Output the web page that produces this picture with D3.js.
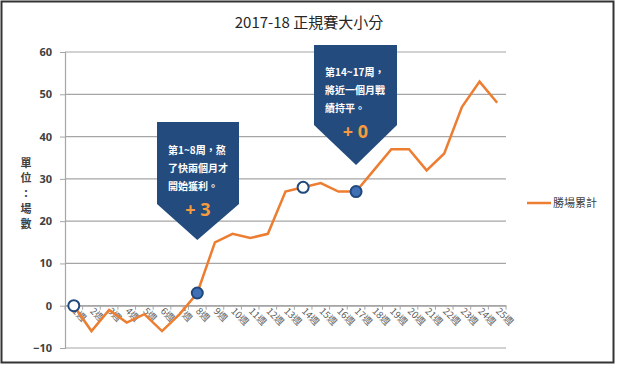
<!DOCTYPE html>
<html><head><meta charset="utf-8">
<script src="https://cdn.jsdelivr.net/npm/d3@7"></script>
<style>
html,body{margin:0;padding:0;background:#fff;}
svg{display:block;}
</style></head>
<body>
<svg id="chart" width="618" height="365"></svg>
<script>
const weeks = d3.range(1, 26).map(i => i + "週");
const wins = [0, -6, -1, -4, -2, -6, -2, 3, 15, 17, 16, 17, 27, 28, 29, 27, 27, 32, 37, 37, 32, 36, 47, 53, 48];
const yTicks = [-10, 0, 10, 20, 30, 40, 50, 60];
const title = "2017-18  正規賽大小分";
const seriesName = "勝場累計";
const yLabel = ["單", "位", "：", "場", "數"];
const markers = [
  {week: "1週", filled: false},
  {week: "8週", filled: true},
  {week: "14週", filled: false},
  {week: "17週", filled: true}
];
const callouts = [
  {week: "8週", lines: ["第1~8周，熬", "了快兩個月才", "開始獲利。"], value: "+ 3"},
  {week: "17週", lines: ["第14~17周，", "將近一個月戰", "績持平。"], value: "+ 0"}
];

const svg = d3.select("#chart");
const cjk = "'Noto Sans CJK TC','Noto Sans CJK SC',sans-serif";
const num = "'Noto Sans','Liberation Sans',sans-serif";

// frame
svg.append("rect").attr("x", 1.5).attr("y", 1.5).attr("width", 612).attr("height", 361)
  .attr("fill", "#fff").attr("stroke", "#333").attr("stroke-width", 2);

const x = d3.scaleBand().domain(weeks).range([65, 506]);
const y = d3.scaleLinear().domain([-10, 60]).range([348, 52]);

// gridlines
svg.append("g").selectAll("line").data(yTicks).join("line")
  .attr("x1", 65).attr("x2", 506)
  .attr("y1", d => y(d)).attr("y2", d => y(d))
  .attr("stroke", "#a6a6a6").attr("stroke-width", 1.2);

// y axis
const yAxis = svg.append("g").attr("transform", "translate(65,0)")
  .call(d3.axisLeft(y).tickValues(yTicks).tickSize(5).tickPadding(8));
yAxis.select(".domain").attr("stroke", "#a6a6a6").attr("stroke-width", 1.2);
yAxis.selectAll(".tick line").attr("stroke", "#a6a6a6");
yAxis.selectAll("text").attr("font-family", num).attr("font-size", 11)
  .attr("fill", "#404040").attr("font-weight", "bold");

// x axis at 0
const xAxis = svg.append("g").attr("transform", `translate(0,${y(0)})`)
  .call(d3.axisBottom(x).tickSize(0).tickFormat(""));
xAxis.select(".domain").attr("stroke", "#a6a6a6").attr("stroke-width", 1.2);
svg.append("g").selectAll("line").data(weeks.concat(["end"])).join("line")
  .attr("x1", (d, i) => 65 + i * x.step()).attr("x2", (d, i) => 65 + i * x.step())
  .attr("y1", y(0)).attr("y2", y(0) + 4)
  .attr("stroke", "#a6a6a6");
svg.append("g").selectAll("text").data(weeks).join("text")
  .attr("transform", d => `translate(${x(d) + x.bandwidth() / 2 - 2},${y(0) + 6}) rotate(45)`)
  .attr("font-family", cjk).attr("font-size", 9.5).attr("fill", "#595959")
  .text(d => d);

// y label
svg.append("g").selectAll("text").data(yLabel).join("text")
  .attr("x", 26).attr("y", (d, i) => 167 + i * 15.3)
  .attr("text-anchor", "middle").attr("font-family", cjk).attr("font-size", 11)
  .attr("fill", "#404040").attr("font-weight", "bold")
  .text(d => d);

// title
svg.append("text").attr("x", 309).attr("y", 28).attr("text-anchor", "middle")
  .attr("font-family", cjk).attr("font-size", 15).attr("fill", "#262626")
  .text(title);

// line
const cx = d => x(d) + x.bandwidth() / 2;
svg.append("path").datum(wins)
  .attr("d", d3.line().x((d, i) => cx(weeks[i])).y(d => y(d)))
  .attr("fill", "none").attr("stroke", "#ed7d31").attr("stroke-width", 2.5)
  .attr("stroke-linejoin", "miter");

// callouts
const callG = [
  {top: 122, bottom: 204, tip: 240, left: 157, right: 239, ty: [154, 172, 190], vy: 216},
  {top: 45, bottom: 125, tip: 165, left: 314, right: 397, ty: [76, 94, 112], vy: 138}
];
callouts.forEach((c, k) => {
  const g = callG[k];
  const tx = cx(c.week);
  svg.append("path")
    .attr("d", `M${g.left},${g.top}L${g.right},${g.top}L${g.right},${g.bottom}L${tx},${g.tip}L${g.left},${g.bottom}Z`)
    .attr("fill", "#234b7d");
  c.lines.forEach((t, i) => {
    svg.append("text").attr("x", g.left + 11).attr("y", g.ty[i])
      .attr("font-family", cjk).attr("font-size", 10).attr("font-weight", "bold")
      .attr("fill", "#fff").text(t);
  });
  svg.append("text").attr("x", (g.left + g.right) / 2).attr("y", g.vy)
    .attr("text-anchor", "middle").attr("font-family", num).attr("font-size", 18)
    .attr("font-weight", "bold").attr("fill", "#f79a3e").text(c.value);
});

// markers
svg.append("g").selectAll("circle").data(markers).join("circle")
  .attr("cx", d => cx(d.week))
  .attr("cy", d => y(wins[weeks.indexOf(d.week)]))
  .attr("r", 5.5)
  .attr("fill", d => d.filled ? "#3f6fb5" : "#fff")
  .attr("stroke", "#1f497d").attr("stroke-width", 2);

// legend
svg.append("line").attr("x1", 527).attr("x2", 551).attr("y1", 203).attr("y2", 203)
  .attr("stroke", "#ed7d31").attr("stroke-width", 2.5);
svg.append("text").attr("x", 553).attr("y", 207)
  .attr("font-family", cjk).attr("font-size", 11).attr("fill", "#404040")
  .text(seriesName);
</script>
</body></html>
